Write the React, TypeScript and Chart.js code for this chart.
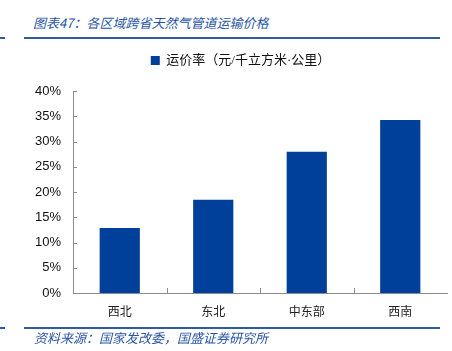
import React, { useEffect, useRef } from "react";
import { Chart, registerables } from "chart.js";

Chart.register(...registerables);

const categories = ["西北", "东北", "中东部", "西南"];
const freightRates = [0.129, 0.185, 0.28, 0.343];
const seriesName = "运价率（元/千立方米·公里）";
const yMin = 0;
const yMax = 0.4;
const yStep = 0.05;
const titleText = "图表47：各区域跨省天然气管道运输价格";
const sourceText = "资料来源：国家发改委，国盛证券研究所";

const BAR = "#00409a";
const AXIS = "#8c8c8c";
const BLUE_TEXT = "#2a56a4";
const RULE = "#2f5aa6";

const innerTicks = {
  id: "innerTicks",
  afterDraw(chart: any) {
    const { ctx, chartArea } = chart;
    const y = chart.scales.y;
    ctx.save();
    ctx.strokeStyle = AXIS;
    ctx.lineWidth = 1;
    ctx.beginPath();
    y.ticks.forEach((t: any) => {
      const py = Math.round(y.getPixelForValue(t.value)) + 0.5;
      ctx.moveTo(chartArea.left, py);
      ctx.lineTo(chartArea.left + 4, py);
    });
    const n = categories.length;
    const w = (chartArea.right - chartArea.left) / n;
    for (let i = 1; i < n; i++) {
      const px = Math.round(chartArea.left + i * w) + 0.5;
      ctx.moveTo(px, chartArea.bottom);
      ctx.lineTo(px, chartArea.bottom - 5);
    }
    ctx.stroke();
    ctx.restore();
  },
};

export default function App() {
  const ref = useRef<HTMLCanvasElement>(null);
  useEffect(() => {
    if (!ref.current) return;
    const chart = new Chart(ref.current, {
      type: "bar",
      data: {
        labels: categories,
        datasets: [
          {
            label: seriesName,
            data: freightRates,
            backgroundColor: BAR,
            borderWidth: 0,
            categoryPercentage: 1,
            barPercentage: 0.43,
          },
        ],
      },
      options: {
        animation: false,
        responsive: false,
        maintainAspectRatio: false,
        layout: { padding: { top: 30, left: 34, right: 5, bottom: 0 } },
        plugins: {
          legend: {
            display: true,
            position: "top",
            labels: {
              boxWidth: 9,
              boxHeight: 9,
              padding: 24,
              color: "#111",
              font: { family: "'Liberation Serif', 'Noto Sans CJK SC'", size: 13 },
            },
          },
          subtitle: {
            display: true,
            position: "top",
            weight: 500,
            text: " ",
            color: "rgba(0,0,0,0)",
            font: { size: 1 },
            padding: { top: 0, bottom: 13 },
          } as any,
          tooltip: { enabled: false },
          title: { display: false },
        },
        scales: {
          x: {
            grid: { display: false, drawTicks: false },
            border: { display: true, color: AXIS, width: 1 },
            ticks: {
              color: "#222",
              padding: 11,
              font: { family: "'Noto Sans CJK SC'", size: 12 },
            },
            afterFit(scale: any) {
              scale.height = 58;
            },
          },
          y: {
            min: yMin,
            max: yMax,
            grid: { display: false, drawTicks: false },
            border: { display: true, color: AXIS, width: 1 },
            ticks: {
              stepSize: yStep,
              color: "#111",
              padding: 12,
              font: { family: "'Liberation Sans', Arial", size: 13 },
              callback: (v: any) => Math.round(Number(v) * 100) + "%",
            },
            afterFit(scale: any) {
              scale.width = 39;
            },
          },
        },
      },
      plugins: [innerTicks],
    });
    return () => chart.destroy();
  }, []);

  return (
    <div
      style={{
        position: "fixed",
        left: 0,
        top: 0,
        width: 452,
        height: 351,
        background: "#fff",
        overflow: "hidden",
      }}
    >
      <div
        style={{
          position: "absolute",
          left: 33,
          top: 14,
          fontFamily: "'Noto Sans CJK SC'",
          fontStyle: "italic",
          fontSize: 13,
          lineHeight: "18px",
          color: BLUE_TEXT,
          whiteSpace: "nowrap",
        }}
      >
        {titleText}
      </div>
      <div style={{ position: "absolute", left: 0, top: 37, width: 5, height: 2, background: RULE }} />
      <div style={{ position: "absolute", left: 24, top: 37, width: 416, height: 2, background: RULE }} />
      <canvas
        ref={ref}
        width={452}
        height={351}
        style={{ position: "absolute", left: 0, top: 0, width: 452, height: 351 }}
      />
      <div style={{ position: "absolute", left: 0, top: 327, width: 5, height: 2, background: RULE }} />
      <div style={{ position: "absolute", left: 24, top: 327, width: 416, height: 2, background: RULE }} />
      <div
        style={{
          position: "absolute",
          left: 34,
          top: 329,
          fontFamily: "'Noto Sans CJK SC'",
          fontStyle: "italic",
          fontSize: 13,
          lineHeight: "18px",
          color: BLUE_TEXT,
          whiteSpace: "nowrap",
        }}
      >
        {sourceText}
      </div>
    </div>
  );
}
